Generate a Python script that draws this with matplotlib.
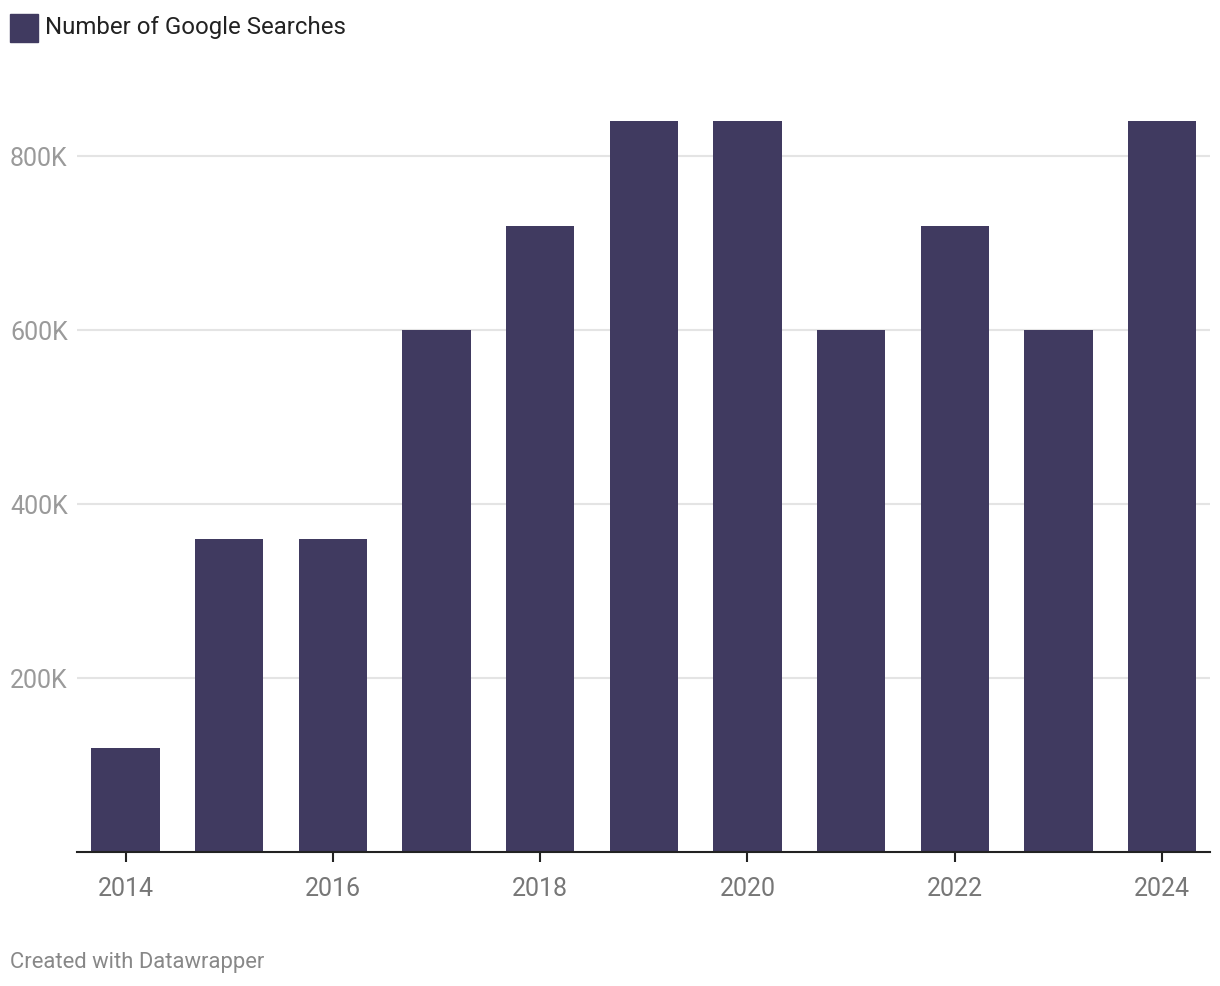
import matplotlib
matplotlib.use("Agg")
import matplotlib.pyplot as plt
from matplotlib.patches import Rectangle

years = [2014, 2015, 2016, 2017, 2018, 2019, 2020, 2021, 2022, 2023, 2024]
searches = [120000, 360000, 360000, 600000, 720000, 840000, 840000, 600000, 720000, 600000, 840000]
y_ticks = [200000, 400000, 600000, 800000]
y_tick_labels = ["200K", "400K", "600K", "800K"]
x_ticks = [2014, 2016, 2018, 2020, 2022, 2024]
x_tick_labels = ["2014", "2016", "2018", "2020", "2022", "2024"]
series_name = "Number of Google Searches"

plt.rcParams['font.family'] = ['Roboto', 'DejaVu Sans']

W, H = 1220, 986
fig = plt.figure(figsize=(W / 100, H / 100), dpi=100)

ymax = 860000
px_per_unit = 174 / 200000
top_px = 852 - ymax * px_per_unit
ax = fig.add_axes([77 / W, 1 - 852 / H, (1210 - 77) / W, (852 - top_px) / H])

bar_color = "#403a60"
ax.bar(years, searches, width=0.66, color=bar_color, zorder=3)

ax.set_xlim(2013.532, 2024.463)
ax.set_ylim(0, ymax)

ax.set_yticks(y_ticks)
ax.set_yticklabels(y_tick_labels)
ax.grid(axis='y', color="#e4e4e4", linewidth=1.5, zorder=0)
ax.tick_params(axis='y', length=0, pad=67 * 72 / 100, labelsize=18, labelcolor="#9a9a9a")
for t in ax.get_yticklabels():
    t.set_horizontalalignment('left')

ax.set_xticks(x_ticks)
ax.set_xticklabels(x_tick_labels)
ax.tick_params(axis='x', length=7.5, width=1.5, color="#222222", pad=10.5,
               labelsize=18, labelcolor="#777777")

for s in ['top', 'right', 'left']:
    ax.spines[s].set_visible(False)
ax.spines['bottom'].set_color("#222222")
ax.spines['bottom'].set_linewidth(1.5)
ax.spines['bottom'].set_zorder(4)

# legend
fig.patches.append(Rectangle((10 / W, 1 - 42 / H), 28 / W, 28 / H,
                             transform=fig.transFigure, color=bar_color))
fig.text(45 / W, 1 - 34 / H, series_name, fontsize=17.3, color="#222222",
         va='baseline', ha='left')

fig.text(10 / W, 1 - 968 / H, "Created with Datawrapper", fontsize=15.8,
         color="#888888", va='baseline', ha='left')

fig.savefig("out.png", dpi=100)
